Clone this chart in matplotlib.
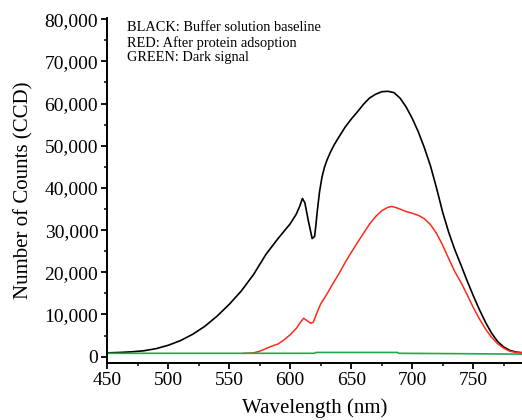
import matplotlib
matplotlib.use("Agg")
import matplotlib.pyplot as plt
from matplotlib.ticker import MultipleLocator, FuncFormatter

# Black: buffer solution baseline
black_wl = [450, 460, 470, 480, 490, 500, 510, 520, 530, 540, 550, 560, 570, 580,
            590, 600, 605, 608, 610, 612, 615, 618, 620, 621, 622, 624, 626, 628,
            630, 633, 636, 640, 645, 650, 655, 660, 665, 670, 675, 680, 685, 690,
            695, 700, 705, 710, 715, 720, 725, 730, 735, 740, 745, 750, 755, 760,
            765, 770, 775, 780, 785, 790]
black_counts = [900, 1000, 1150, 1400, 1900, 2700, 3800, 5300, 7200, 9600, 12400,
                15600, 19500, 24200, 28000, 31500, 33800, 35800, 37500, 36500,
                32000, 28000, 28500, 31000, 34000, 39000, 42500, 44800, 46500,
                48500, 50200, 52100, 54400, 56300, 58000, 59800, 61300, 62200,
                62800, 62900, 62600, 61300, 59200, 56500, 53300, 49500, 45200,
                39900, 34200, 29400, 25300, 21700, 18000, 14500, 11200, 8200,
                5600, 3600, 2300, 1500, 1100, 950]

# Red: after protein adsorption
red_wl = [562, 565, 570, 575, 580, 585, 590, 595, 600, 605, 608, 611, 614, 617, 619,
          622, 625, 630, 635, 640, 645, 650, 655, 660, 665, 670, 675, 680, 683,
          686, 690, 695, 700, 705, 710, 715, 720, 725, 730, 735, 740, 745, 750,
          755, 760, 765, 770, 775, 780, 785, 790]
red_counts = [800, 820, 900, 1300, 1900, 2500, 3000, 4000, 5200, 6700, 8000, 9100,
              8500, 7900, 8200, 10500, 12500, 14800, 17300, 19700, 22300, 24700,
              27000, 29200, 31400, 33200, 34600, 35400, 35600, 35400, 35000, 34400,
              34000, 33500, 32700, 31300, 29200, 26400, 23200, 20100, 17600, 14700,
              11700, 9000, 6600, 4600, 3100, 2000, 1300, 1000, 900]

# Green: dark signal
green_wl = [450, 620, 621, 688, 689, 745, 790]
green_counts = [800, 800, 1000, 1000, 800, 700, 600]

notes = ["BLACK: Buffer solution baseline",
         "RED: After protein adsoption",
         "GREEN: Dark signal"]

plt.rcParams["font.family"] = ["Liberation Serif", "DejaVu Serif"]

fig = plt.figure(figsize=(5.22, 4.2), dpi=100)
ax = fig.add_axes([0.2054, 0.1357, 0.7946, 0.8207])

ax.plot(black_wl, black_counts, color="black", lw=1.2)
ax.plot(red_wl, red_counts, color="#ff2a1a", lw=1.1)
ax.plot(green_wl, green_counts, color="#1fa84f", lw=1.2)

ax.set_xlim(450, 790)
ax.set_ylim(-1500, 80200)

ax.xaxis.set_major_locator(MultipleLocator(50))
ax.xaxis.set_minor_locator(MultipleLocator(25))
ax.yaxis.set_major_locator(MultipleLocator(10000))
ax.yaxis.set_minor_locator(MultipleLocator(5000))
ax.yaxis.set_major_formatter(FuncFormatter(lambda v, p: f"{int(v):,}"))

for side in ["top", "right"]:
    ax.spines[side].set_visible(False)
for side in ["left", "bottom"]:
    ax.spines[side].set_linewidth(1.4)

ax.tick_params(which="major", direction="out", length=4.5, width=1.3, labelsize=14, pad=2)
ax.tick_params(which="minor", direction="out", length=2.5, width=1.1)

ax.set_xlabel("Wavelength (nm)", fontsize=15, labelpad=7)
ax.set_ylabel("Number of Counts (CCD)", fontsize=15, labelpad=8)

for i, note in enumerate(notes):
    ax.text(0.0472, 0.972 - i * 0.0435, note, transform=ax.transAxes,
            fontsize=10.4, va="center", ha="left")

fig.savefig("out.png", dpi=100)
